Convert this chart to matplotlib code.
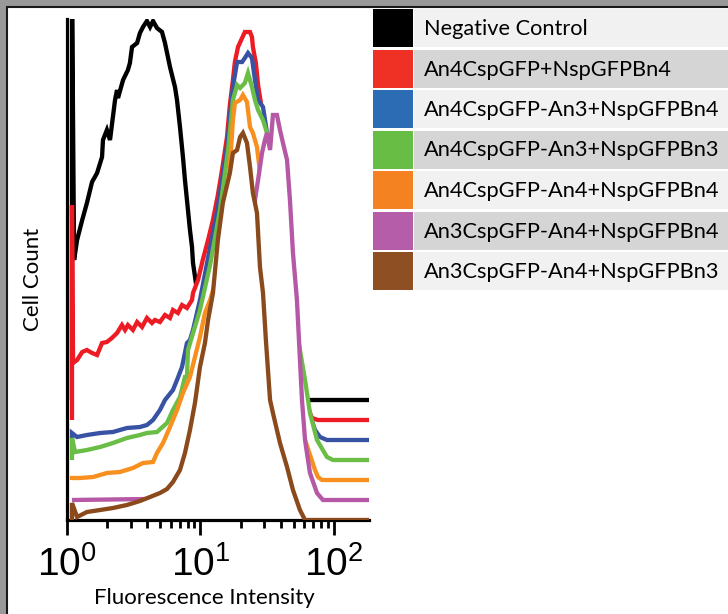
import matplotlib
matplotlib.use("Agg")
import matplotlib.pyplot as plt
from matplotlib.patches import Rectangle
from matplotlib.ticker import LogLocator, LogFormatterSciNotation

# staggered histogram overlay (x = intensity, y = counts above each baseline)
labels = ["Negative Control", "An4CspGFP+NspGFPBn4", "An4CspGFP-An3+NspGFPBn4",
          "An4CspGFP-An3+NspGFPBn3", "An4CspGFP-An4+NspGFPBn4",
          "An3CspGFP-An4+NspGFPBn4", "An3CspGFP-An4+NspGFPBn3"]
offsets = [120, 100, 80, 60, 40, 20, 0]

neg_x = [1.09, 1.09, 1.13, 1.19, 1.30, 1.41, 1.54, 1.68, 1.83, 1.86, 1.99, 2.10, 2.29, 2.37, 2.41,
         2.63, 2.86, 2.96, 3.07, 3.35, 3.52, 3.71, 3.97, 4.19, 4.41, 4.72, 5.15, 5.42, 5.91, 6.44,
         6.67, 7.02, 7.39, 7.65, 7.92, 8.34, 8.64, 8.79, 9.41, 9.91, 10.8, 11.8, 12.8, 183]
neg_y = [0, 420, 140, 160, 180, 197, 218, 227, 243, 260, 270, 260, 300, 310, 302,
         320, 330, 337, 353, 357, 367, 373, 379, 373, 379, 372, 368, 357, 333, 313,
         300, 273, 243, 220, 200, 170, 153, 137, 110, 80, 40, 15, 0, 0]

red_x = [1.09, 1.09, 1.11, 1.19, 1.30, 1.41, 1.54, 1.68, 1.83, 1.99, 2.17, 2.37, 2.58, 2.72, 2.86,
         3.12, 3.35, 3.65, 3.97, 4.33, 4.56, 4.97, 5.42, 5.91, 6.22, 6.78, 7.27, 7.92, 8.64, 8.79,
         9.58, 10.4, 11.4, 12.4, 13.5, 14.5, 15.8, 16.6, 17.5, 18.1, 19.1, 20.5, 21.5, 23.5, 24.3,
         24.7, 26.0, 27.0, 28.9, 30.4, 36.1, 43.0, 51.1, 60.7, 68.4, 75.9, 183]
red_y = [0, 215, 57, 60, 68, 70, 67, 65, 77, 78, 82, 87, 95, 90, 95,
         90, 98, 93, 102, 97, 100, 98, 105, 102, 110, 107, 115, 112, 120, 127,
         140, 160, 180, 200, 225, 250, 283, 315, 340, 358, 373, 382, 388, 388, 383,
         373, 357, 335, 310, 290, 220, 140, 70, 20, 2, 0, 0]

blue_x = [1.09, 1.09, 1.19, 1.41, 1.77, 2.21, 2.81, 3.52, 3.97, 4.41, 4.97, 5.42, 6.22, 6.67, 7.27,
          7.92, 8.34, 8.79, 9.41, 9.91, 11.2, 12.4, 13.5, 14.5, 15.8, 16.6, 17.5, 18.8, 20.5, 21.5,
          22.7, 24.3, 25.6, 27.0, 29.4, 31.5, 38.1, 46.8, 55.6, 66.1, 72.1, 78.6, 88.6, 183]
blue_y = [0, 7, 3, 5, 7, 8, 12, 13, 15, 20, 30, 40, 50, 60, 73,
          97, 100, 110, 127, 140, 177, 207, 233, 260, 293, 323, 353, 378, 378, 382,
          387, 382, 360, 340, 333, 307, 230, 140, 70, 25, 10, 3, 0, 0]

green_x = [1.09, 1.09, 1.15, 1.41, 1.77, 2.21, 2.81, 3.52, 3.97, 4.72, 5.61, 6.22, 7.02, 7.65, 7.92,
           8.06, 9.91, 11.8, 14.0, 16.1, 17.5, 18.8, 19.8, 21.5, 22.7, 24.3, 25.6, 27.0, 29.4, 31.5,
           38.1, 46.8, 55.6, 60.7, 66.1, 74.6, 88.6, 98.3, 183]
green_y = [0, 22, 8, 10, 13, 17, 22, 25, 27, 28, 37, 50, 63, 83, 83,
           110, 150, 195, 250, 310, 360, 375, 372, 377, 387, 373, 360, 350, 340, 327,
           260, 170, 110, 80, 47, 20, 3, 0, 0]

orange_x = [1.09, 1.09, 1.25, 1.57, 1.99, 2.49, 3.12, 3.71, 4.41, 4.72, 5.24, 5.91, 6.67, 7.39, 8.34,
            9.09, 9.91, 10.8, 11.8, 14.0, 15.3, 16.6, 17.5, 18.1, 19.8, 20.8, 22.3, 23.5, 24.7, 26.5,
            27.4, 30.4, 36.1, 46.8, 60.7, 72.1, 75.9, 81.3, 183]
orange_y = [0, 2, 2, 3, 7, 8, 12, 17, 18, 27, 37, 53, 70, 87, 103,
            123, 143, 167, 180, 213, 267, 313, 360, 377, 380, 385, 378, 353, 347, 333,
            317, 260, 180, 100, 40, 10, 3, 0, 0]

purple_x = [1.09, 15.3, 18.1, 21.5, 23.5, 24.7, 25.6, 27.0, 28.9, 30.4, 31.5, 33.2, 34.3, 34.9, 37.4,
            39.4, 41.5, 44.5, 46.8, 49.3, 52.8, 57.6, 60.7, 66.1, 74.6, 82.7, 183]
purple_y = [0, 2, 30, 120, 200, 260, 300, 320, 347, 360, 367, 350, 373, 385, 385,
            370, 357, 340, 300, 247, 200, 100, 60, 27, 7, 0, 0]

brown_x = [1.09, 1.09, 1.19, 1.41, 1.77, 2.21, 2.81, 3.52, 4.19, 4.97, 5.61, 6.22, 7.02, 7.65, 8.34,
           9.09, 9.91, 10.8, 11.4, 12.4, 13.5, 14.7, 16.6, 17.5, 18.8, 19.8, 20.8, 22.3, 23.5, 24.7,
           26.5, 27.9, 29.4, 30.9, 33.2, 34.9, 39.4, 44.5, 49.3, 55.6, 60.7, 183]
brown_y = [0, 17, 3, 8, 10, 12, 15, 19, 23, 27, 31, 38, 50, 67, 90,
           117, 153, 177, 200, 227, 280, 317, 347, 367, 370, 383, 387, 377, 353, 327,
           307, 253, 227, 180, 120, 107, 77, 53, 30, 10, 0, 0]

series_x = [neg_x, red_x, blue_x, green_x, orange_x, purple_x, brown_x]
series_y = [neg_y, red_y, blue_y, green_y, orange_y, purple_y, brown_y]
line_colors = ["#000000", "#ed1c24", "#3953a4", "#6abd45", "#f7901e", "#b559a6", "#8b4a1c"]
swatch_colors = ["#000000", "#ee3124", "#2b6cb5", "#68bd45", "#f58220", "#b55da8", "#8e5023"]
row_bg = ["#f0f1f0", "#d5d5d5"]

W, H = 728, 614
plt.rcParams['font.family'] = ['Liberation Sans', 'DejaVu Sans']
label_font = 'Lato'

fig = plt.figure(figsize=(W / 100, H / 100), dpi=100)
fig.patch.set_facecolor('#999999')
fig.patches.append(Rectangle((7 / W, -0.1), 1.2, 1.1 - 7 / H, transform=fig.transFigure,
                             facecolor='white', edgecolor='#1a1a1a', lw=1.5, zorder=-5))

ax = fig.add_axes([67 / W, 1 - 520 / H, (369 - 67) / W, (520 - 19) / H])
ax.patch.set_alpha(0)
ax.set_xscale('log')
ax.set_xlim(1, 183)
ax.set_ylim(0, 501)

for i, (xs, ys) in enumerate(zip(series_x, series_y)):
    base = offsets[i]
    yy = [v + base for v in ys]
    ax.fill_between(xs, base, yy, color='white', lw=0, zorder=3 + 2 * i)
    ax.plot(xs, yy, color=line_colors[i], lw=3.1, zorder=4 + 2 * i,
            solid_joinstyle='miter', solid_capstyle='butt')

for side in ['top', 'right']:
    ax.spines[side].set_visible(False)
for side in ['left', 'bottom']:
    ax.spines[side].set_linewidth(2.3)
    ax.spines[side].set_zorder(15.5)
ax.set_yticks([])
ax.xaxis.set_major_locator(LogLocator(base=10))
ax.xaxis.set_minor_locator(LogLocator(base=10, subs=range(2, 10)))
ax.xaxis.set_major_formatter(LogFormatterSciNotation())
ax.tick_params(axis='x', which='major', length=11, width=2, direction='out', labelsize=28, pad=8)
ax.tick_params(axis='x', which='minor', length=6, width=2, direction='out')

fig.text(204 / W, 1 - 604 / H, "Fluorescence Intensity", family=label_font, fontsize=16,
         ha='center', va='baseline')
fig.text(33 / W, 1 - 279 / H, "Cell Count", family=label_font, fontsize=16,
         rotation=90, ha='center', va='center')

# legend drawn as a table of colored swatches in pixel coordinates
lax = fig.add_axes([0, 0, 1, 1])
lax.patch.set_alpha(0)
lax.set_xlim(0, W)
lax.set_ylim(H, 0)
lax.axis('off')
for i, lab in enumerate(labels):
    top = 9 + 40.5 * i
    lax.add_patch(Rectangle((373, top), 40, 38, color=swatch_colors[i], lw=0))
    lax.add_patch(Rectangle((414, top), 320, 38, color=row_bg[i % 2], lw=0))
    lax.text(424, top + 20, lab, family=label_font, fontsize=15.7, va='center', ha='left')

fig.savefig("out.png", dpi=100)
